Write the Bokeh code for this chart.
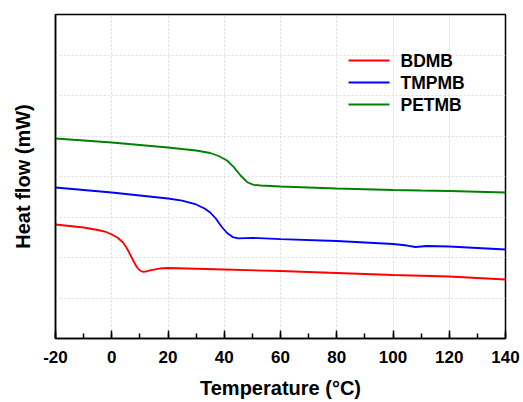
from bokeh.plotting import figure
from bokeh.models import (Range1d, FixedTicker, SingleIntervalTicker,
                          CustomJSTickFormatter, Label, BoxAnnotation)
from bokeh.embed import file_html
from bokeh.resources import INLINE

# Temperature (°C) and heat flow (arbitrary units)
bdmb_t = [-20, -10, -5, -2, 0, 2, 4, 5, 6, 7, 8, 9, 10, 11, 12, 14, 17, 20,
          40, 60, 80, 100, 120, 140]
bdmb_h = [2.815, 2.741, 2.679, 2.630, 2.568, 2.494, 2.370, 2.272, 2.148, 2.012,
          1.877, 1.753, 1.679, 1.647, 1.654, 1.691, 1.728, 1.741,
          1.704, 1.667, 1.617, 1.568, 1.531, 1.457]

tmpmb_t = [-20, 0, 20, 25, 30, 33, 35, 37, 39, 41, 43, 45, 50, 60, 80, 100, 105,
           108, 112, 120, 140]
tmpmb_h = [3.728, 3.605, 3.457, 3.407, 3.309, 3.210, 3.111, 2.963, 2.765, 2.605,
           2.506, 2.474, 2.486, 2.452, 2.407, 2.333, 2.296, 2.259, 2.284, 2.272, 2.198]

petmb_t = [-20, 0, 20, 30, 35, 38, 41, 43.4, 45.8, 48.2, 50.4, 53, 60, 80, 100,
           110, 120, 140]
petmb_h = [4.938, 4.840, 4.716, 4.642, 4.580, 4.506, 4.395, 4.230, 4.025, 3.859,
           3.795, 3.778, 3.753, 3.704, 3.667, 3.654, 3.642, 3.605]

x_ticks = [-20, 0, 20, 40, 60, 80, 100, 120, 140]
series_names = ["BDMB", "TMPMB", "PETMB"]
series_colors = ["#ff0000", "#0000ff", "#008000"]

FONT = "Liberation Sans"

p = figure(width=523, height=402, output_backend="svg", toolbar_location=None,
           x_range=Range1d(-20, 140), y_range=Range1d(0, 8),
           min_border_left=55, min_border_right=18, min_border_top=14, min_border_bottom=64)
p.outline_line_color = "black"
p.outline_line_width = 1.5

series = [(bdmb_t, bdmb_h), (tmpmb_t, tmpmb_h), (petmb_t, petmb_h)]
for (t, h), c in zip(series, series_colors):
    p.line(t, h, line_color=c, line_width=1.8)

# x axis
xa = p.xaxis[0]
xa.ticker = SingleIntervalTicker(interval=20, num_minor_ticks=2)
xa.formatter = CustomJSTickFormatter(code="return tick.toString();")
xa.major_tick_in = 8
xa.major_tick_out = 0
xa.minor_tick_in = 5
xa.minor_tick_out = 0
xa.major_tick_line_width = 1.5
xa.minor_tick_line_width = 1.5
xa.axis_line_width = 1.5
xa.major_label_text_font = FONT
xa.major_label_text_font_style = "bold"
xa.major_label_text_font_size = "17px"
xa.major_label_text_color = "black"
xa.major_label_standoff = 12
xa.axis_label = "Temperature (\u00b0C)"
xa.axis_label_text_font = FONT
xa.axis_label_text_font_style = "bold"
xa.axis_label_text_font_size = "20px"
xa.axis_label_text_color = "black"
xa.axis_label_standoff = 11

# y axis: label only
ya = p.yaxis[0]
ya.ticker = FixedTicker(ticks=[])
ya.major_label_text_font_size = "0px"
ya.major_tick_line_color = None
ya.minor_tick_line_color = None
ya.axis_line_width = 1.5
ya.axis_label = "Heat flow (mW)"
ya.axis_label_text_font = FONT
ya.axis_label_text_font_style = "bold"
ya.axis_label_text_font_size = "20px"
ya.axis_label_text_color = "black"
ya.axis_label_standoff = 22

# grids
p.xgrid.ticker = FixedTicker(ticks=x_ticks)
p.ygrid.ticker = FixedTicker(ticks=[1, 2, 3, 4, 5, 6, 7])
for g in (p.xgrid[0], p.ygrid[0]):
    g.grid_line_color = "#dcdcdc"
    g.grid_line_dash = "2 2"
    g.grid_line_width = 1

# legend (layout in screen pixels relative to the plot frame)
row_y = [278, 256, 234]
for name, c, yy in zip(series_names, series_colors, row_y):
    p.add_layout(BoxAnnotation(left=293, right=334, bottom=yy - 1, top=yy + 1,
                               left_units="screen", right_units="screen",
                               bottom_units="screen", top_units="screen",
                               fill_color=c, fill_alpha=1, line_color=None))
    p.add_layout(Label(x=345, y=yy, x_units="screen", y_units="screen", text=name,
                       text_font=FONT, text_font_style="bold", text_font_size="17.5px",
                       text_color="black", text_baseline="middle", text_align="left"))

open("out.html", "w").write(file_html(p, INLINE))
